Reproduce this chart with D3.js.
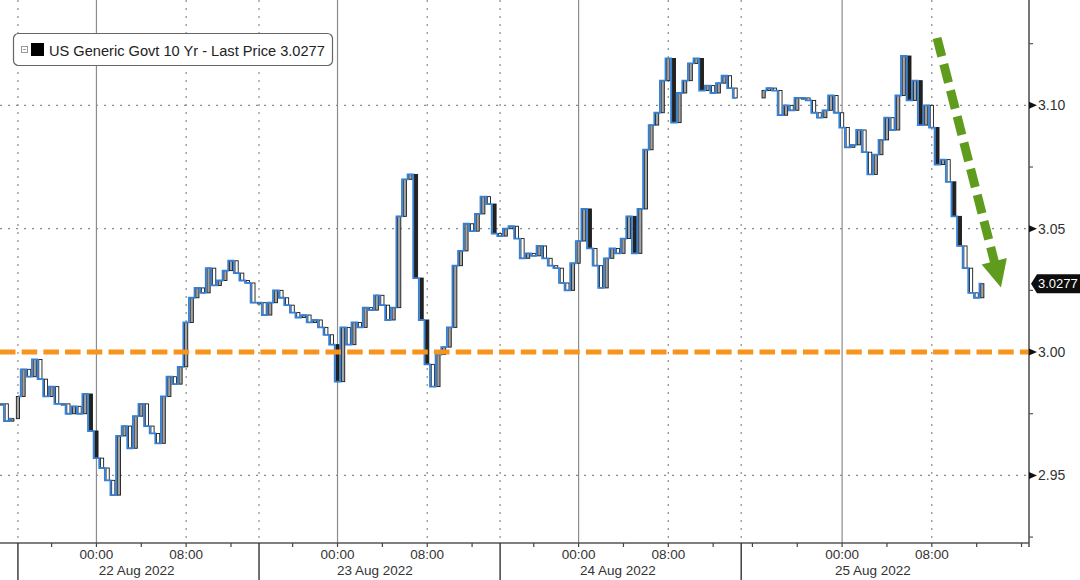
<!DOCTYPE html>
<html><head><meta charset="utf-8">
<script src="https://cdn.jsdelivr.net/npm/d3@7"></script>
<style>html,body{margin:0;padding:0;background:#fff;overflow:hidden}</style>
</head><body>
<svg id="c" width="1080" height="580"></svg>
<script>
// ---------------- data ----------------
const title = "US Generic Govt 10 Yr - Last Price 3.0277";
const lastPrice = 3.0277;
const refLevel = 3.00;
// trading sessions shown on the axis (gaps between them are removed)
const sessions = [
  {start: "2022-08-19T12:54", end: "2022-08-19T14:30"},
  {start: "2022-08-21T17:00", end: "2022-08-22T14:30"},
  {start: "2022-08-22T17:00", end: "2022-08-23T14:30"},
  {start: "2022-08-23T17:00", end: "2022-08-24T14:30"},
  {start: "2022-08-24T15:00", end: "2022-08-25T16:40"}
];
// 30-minute closes
const closes19 = [2.979, 2.972, 2.973];
const closes22 = [2.982, 2.993, 2.990, 2.997, 2.989, 2.982, 2.986, 2.979, 2.979, 2.975, 2.978, 2.975, 2.983, 2.968, 2.957, 2.953, 2.948, 2.942, 2.966, 2.970, 2.961, 2.974, 2.979, 2.970, 2.967, 2.963, 2.982, 2.990, 2.987, 2.994, 3.012, 3.022, 3.026, 3.024, 3.034, 3.027, 3.029, 3.033, 3.037, 3.032, 3.029, 3.028, 3.020];
const closes23 = [3.020, 3.015, 3.020, 3.025, 3.022, 3.019, 3.016, 3.014, 3.015, 3.012, 3.013, 3.010, 3.007, 3.003, 2.988, 3.010, 3.003, 3.012, 3.010, 3.018, 3.017, 3.023, 3.019, 3.013, 3.018, 3.055, 3.070, 3.072, 3.030, 3.013, 2.995, 2.986, 2.999, 3.002, 3.010, 3.035, 3.041, 3.052, 3.049, 3.056, 3.063, 3.060, 3.048];
const closes24 = [3.047, 3.050, 3.051, 3.046, 3.038, 3.040, 3.039, 3.043, 3.038, 3.035, 3.034, 3.028, 3.025, 3.036, 3.045, 3.058, 3.042, 3.035, 3.026, 3.038, 3.042, 3.040, 3.046, 3.055, 3.040, 3.058, 3.082, 3.092, 3.097, 3.110, 3.119, 3.093, 3.105, 3.110, 3.117, 3.119, 3.106, 3.108, 3.105, 3.109, 3.112, 3.107, 3.103];
const closes25 = [3.106, 3.107, 3.106, 3.096, 3.100, 3.098, 3.103, 3.103, 3.102, 3.097, 3.095, 3.098, 3.104, 3.097, 3.091, 3.083, 3.084, 3.090, 3.081, 3.072, 3.080, 3.086, 3.095, 3.090, 3.104, 3.120, 3.102, 3.110, 3.092, 3.100, 3.091, 3.076, 3.078, 3.069, 3.055, 3.043, 3.034, 3.024, 3.022, 3.0277];
const seriesDefs = [
  {start: "2022-08-19T13:00", connect: false, closes: closes19},
  {start: "2022-08-21T17:00", connect: false, closes: closes22},
  {start: "2022-08-22T17:00", connect: true,  closes: closes23},
  {start: "2022-08-23T17:00", connect: true,  closes: closes24},
  {start: "2022-08-24T17:00", connect: false, closes: closes25}
];
const yDomain = [2.9226, 3.1427];
const yTicksMajor = [2.95, 3.00, 3.05, 3.10];
const yTicksMinor = [2.925, 2.975, 3.025, 3.075, 3.125];
const hourTicks = ["2022-08-21T20:00","2022-08-22T00:00","2022-08-22T04:00","2022-08-22T08:00","2022-08-22T12:00",
  "2022-08-22T20:00","2022-08-23T00:00","2022-08-23T04:00","2022-08-23T08:00","2022-08-23T12:00",
  "2022-08-23T20:00","2022-08-24T00:00","2022-08-24T04:00","2022-08-24T08:00","2022-08-24T12:00",
  "2022-08-24T16:00","2022-08-24T20:00","2022-08-25T00:00","2022-08-25T04:00","2022-08-25T08:00","2022-08-25T12:00","2022-08-25T16:00"];
const midnightTicks = ["2022-08-22T00:00","2022-08-23T00:00","2022-08-24T00:00","2022-08-25T00:00"];
const eightTicks = ["2022-08-22T08:00","2022-08-23T08:00","2022-08-24T08:00","2022-08-25T08:00"];
const dayBreaks = ["2022-08-19T14:30","2022-08-22T14:30","2022-08-23T14:30","2022-08-24T14:30"];
const dayLabels = [
  {t: "2022-08-22T03:35", label: "22 Aug 2022"},
  {t: "2022-08-23T03:20", label: "23 Aug 2022"},
  {t: "2022-08-24T03:30", label: "24 Aug 2022"},
  {t: "2022-08-25T02:45", label: "25 Aug 2022"}
];
const arrowFrom = {t: "2022-08-25T08:28", v: 3.1273};
const arrowTo   = {t: "2022-08-25T14:10", v: 3.0262};

// ---------------- layout ----------------
const plotRight = 1029, plotBottom = 543;
const parse = d3.timeParse("%Y-%m-%dT%H:%M");
const svg = d3.select("#c");
const FONT = "'Liberation Sans', Arial, sans-serif";

// piecewise time scale: gaps between sessions collapsed
const totalH = d3.sum(sessions, s => (parse(s.end) - parse(s.start)) / 36e5);
const dom = [], rng = [];
let cum = 0;
sessions.forEach(s => {
  const a = parse(s.start), b = parse(s.end);
  dom.push(a); rng.push(cum / totalH * plotRight);
  cum += (b - a) / 36e5;
  dom.push(b); rng.push(cum / totalH * plotRight);
});
const x = d3.scaleTime().domain(dom).range(rng);
const y = d3.scaleLinear().domain(yDomain).range([plotBottom, 0]);

// bars
const bars = [];
let prev = null, seg = -1;
seriesDefs.forEach(sd => {
  if (!sd.connect) seg++;
  const t0 = parse(sd.start);
  sd.closes.forEach((c, i) => {
    const t = new Date(+t0 + i * 30 * 60000);
    const o = prev == null ? c : prev;
    bars.push({t, o, c, seg});
    prev = c;
  });
});
const segments = d3.groups(bars, d => d.seg).map(d => d[1]);

// ---------------- grid ----------------
const grid = svg.append("g");
grid.selectAll("line.hg").data(yTicksMajor.filter(v => v !== refLevel)).join("line")
  .attr("x1", 0).attr("x2", plotRight).attr("y1", d => y(d)).attr("y2", d => y(d))
  .attr("stroke", "#8a8a8a").attr("stroke-width", 1.2).attr("stroke-dasharray", "2,6");
grid.selectAll("line.vd").data(eightTicks.concat(dayBreaks)).join("line")
  .attr("x1", d => x(parse(d))).attr("x2", d => x(parse(d)))
  .attr("y1", 0).attr("y2", plotBottom)
  .attr("stroke", "#8a8a8a").attr("stroke-width", 1.2).attr("stroke-dasharray", "2,6");
grid.selectAll("line.vs").data(midnightTicks).join("line")
  .attr("x1", d => x(parse(d))).attr("x2", d => x(parse(d)))
  .attr("y1", 0).attr("y2", plotBottom)
  .attr("stroke", "#8c8c8c").attr("stroke-width", 1.2);

// ---------------- series ----------------
const bw = 3.2;
const cg = svg.append("g");
cg.selectAll("rect").data(bars).join("rect")
  .attr("x", d => x(d.t) - bw / 2)
  .attr("width", bw)
  .attr("y", d => y(Math.max(d.o, d.c)))
  .attr("height", d => Math.max(1.2, Math.abs(y(d.o) - y(d.c))))
  .attr("fill", d => d.c > d.o ? "#a3a3a3" : (d.c < d.o - 0.01 ? "#222" : "#fff"))
  .attr("stroke", "#1a1a1a").attr("stroke-width", 0.9);
const line = d3.line().x(d => x(d.t)).y(d => y(d.c)).curve(d3.curveStep);
svg.append("g").selectAll("path").data(segments).join("path")
  .attr("d", line).attr("fill", "none")
  .attr("stroke", "#3481d6").attr("stroke-width", 1.8);

// reference level
svg.append("line")
  .attr("x1", 0).attr("x2", plotRight).attr("y1", y(refLevel)).attr("y2", y(refLevel))
  .attr("stroke", "#f7941d").attr("stroke-width", 5).attr("stroke-dasharray", "15.5,6.2");

// green arrow
(function () {
  const x0 = x(parse(arrowFrom.t)), y0 = y(arrowFrom.v);
  const x1 = x(parse(arrowTo.t)), y1 = y(arrowTo.v);
  const dx = x1 - x0, dy = y1 - y0, L = Math.hypot(dx, dy);
  const ux = dx / L, uy = dy / L, px = -uy, py = ux;
  const head = 27, hw = 13;
  const bx = x1 - ux * head, by = y1 - uy * head;
  const col = "#5f9c1e";
  svg.append("line").attr("x1", x0).attr("y1", y0).attr("x2", bx + ux * 2).attr("y2", by + uy * 2)
    .attr("stroke", col).attr("stroke-width", 9).attr("stroke-dasharray", "19,8");
  svg.append("polygon")
    .attr("points", [[x1, y1], [bx + px * hw, by + py * hw], [bx - px * hw, by - py * hw]].map(p => p.join(",")).join(" "))
    .attr("fill", col);
})();

// ---------------- right axis ----------------
const ra = svg.append("g");
ra.append("line").attr("x1", plotRight).attr("x2", plotRight).attr("y1", 0).attr("y2", plotBottom + 4)
  .attr("stroke", "#555").attr("stroke-width", 1.6);
ra.selectAll("line.mn").data(yTicksMinor).join("line")
  .attr("x1", plotRight).attr("x2", plotRight + 4).attr("y1", d => y(d)).attr("y2", d => y(d))
  .attr("stroke", "#555").attr("stroke-width", 1.2);
ra.selectAll("path.tri").data(yTicksMajor).join("path")
  .attr("d", d => `M${plotRight},${y(d) - 3.5}L${plotRight + 8},${y(d)}L${plotRight},${y(d) + 3.5}Z`)
  .attr("fill", "#111");
ra.selectAll("text").data(yTicksMajor).join("text")
  .attr("x", plotRight + 9).attr("y", d => y(d) + 5)
  .attr("font-family", FONT).attr("font-size", 14).attr("fill", "#333")
  .text(d => d3.format(".2f")(d));
// last price tag
const ly = y(lastPrice);
ra.append("path")
  .attr("d", `M${plotRight + 2},${ly}L${plotRight + 8},${ly - 9.5}L1080,${ly - 9.5}L1080,${ly + 9.5}L${plotRight + 8},${ly + 9.5}Z`)
  .attr("fill", "#0d0d0d");
ra.append("text").attr("x", plotRight + 9).attr("y", ly + 4.5)
  .attr("font-family", FONT).attr("font-size", 13).attr("fill", "#fff")
  .text(d3.format(".4f")(lastPrice));

// ---------------- bottom axis ----------------
const ba = svg.append("g");
ba.append("line").attr("x1", 0).attr("x2", plotRight).attr("y1", plotBottom).attr("y2", plotBottom)
  .attr("stroke", "#555").attr("stroke-width", 1.6);
ba.selectAll("line.tk").data(hourTicks).join("line")
  .attr("x1", d => x(parse(d))).attr("x2", d => x(parse(d)))
  .attr("y1", plotBottom).attr("y2", plotBottom + 4)
  .attr("stroke", "#444").attr("stroke-width", 1.2);
ba.selectAll("line.db").data(dayBreaks).join("line")
  .attr("x1", d => x(parse(d))).attr("x2", d => x(parse(d)))
  .attr("y1", plotBottom).attr("y2", 580)
  .attr("stroke", "#333").attr("stroke-width", 1.4);
ba.selectAll("text.hl").data(midnightTicks.concat(eightTicks)).join("text")
  .attr("x", d => x(parse(d))).attr("y", plotBottom + 16)
  .attr("text-anchor", "middle")
  .attr("font-family", FONT).attr("font-size", 13.5).attr("fill", "#333")
  .text(d => d3.timeFormat("%H:%M")(parse(d)));
ba.selectAll("text.dl").data(dayLabels).join("text")
  .attr("x", d => x(parse(d.t))).attr("y", plotBottom + 32)
  .attr("text-anchor", "middle")
  .attr("font-family", FONT).attr("font-size", 13.5).attr("fill", "#333")
  .text(d => d.label);

// ---------------- legend ----------------
const lg = svg.append("g");
lg.append("rect").attr("x", 13.5).attr("y", 33.5).attr("width", 319).attr("height", 32).attr("rx", 5)
  .attr("fill", "#fff").attr("stroke", "#666").attr("stroke-width", 1.2);
lg.append("rect").attr("x", 21.5).attr("y", 46.5).attr("width", 6).attr("height", 6)
  .attr("fill", "#fff").attr("stroke", "#999").attr("stroke-width", 1);
lg.append("line").attr("x1", 23).attr("x2", 26).attr("y1", 49.5).attr("y2", 49.5).attr("stroke", "#999");
lg.append("rect").attr("x", 31).attr("y", 43).attr("width", 13).attr("height", 13).attr("fill", "#000");
const lt = lg.append("text").attr("x", 49).attr("y", 55.5)
  .attr("font-family", FONT).attr("font-size", 14).attr("fill", "#222").text(title);
const len = lt.node().getComputedTextLength();
lt.attr("font-size", 14 * 276 / len);
</script>
</body></html>
